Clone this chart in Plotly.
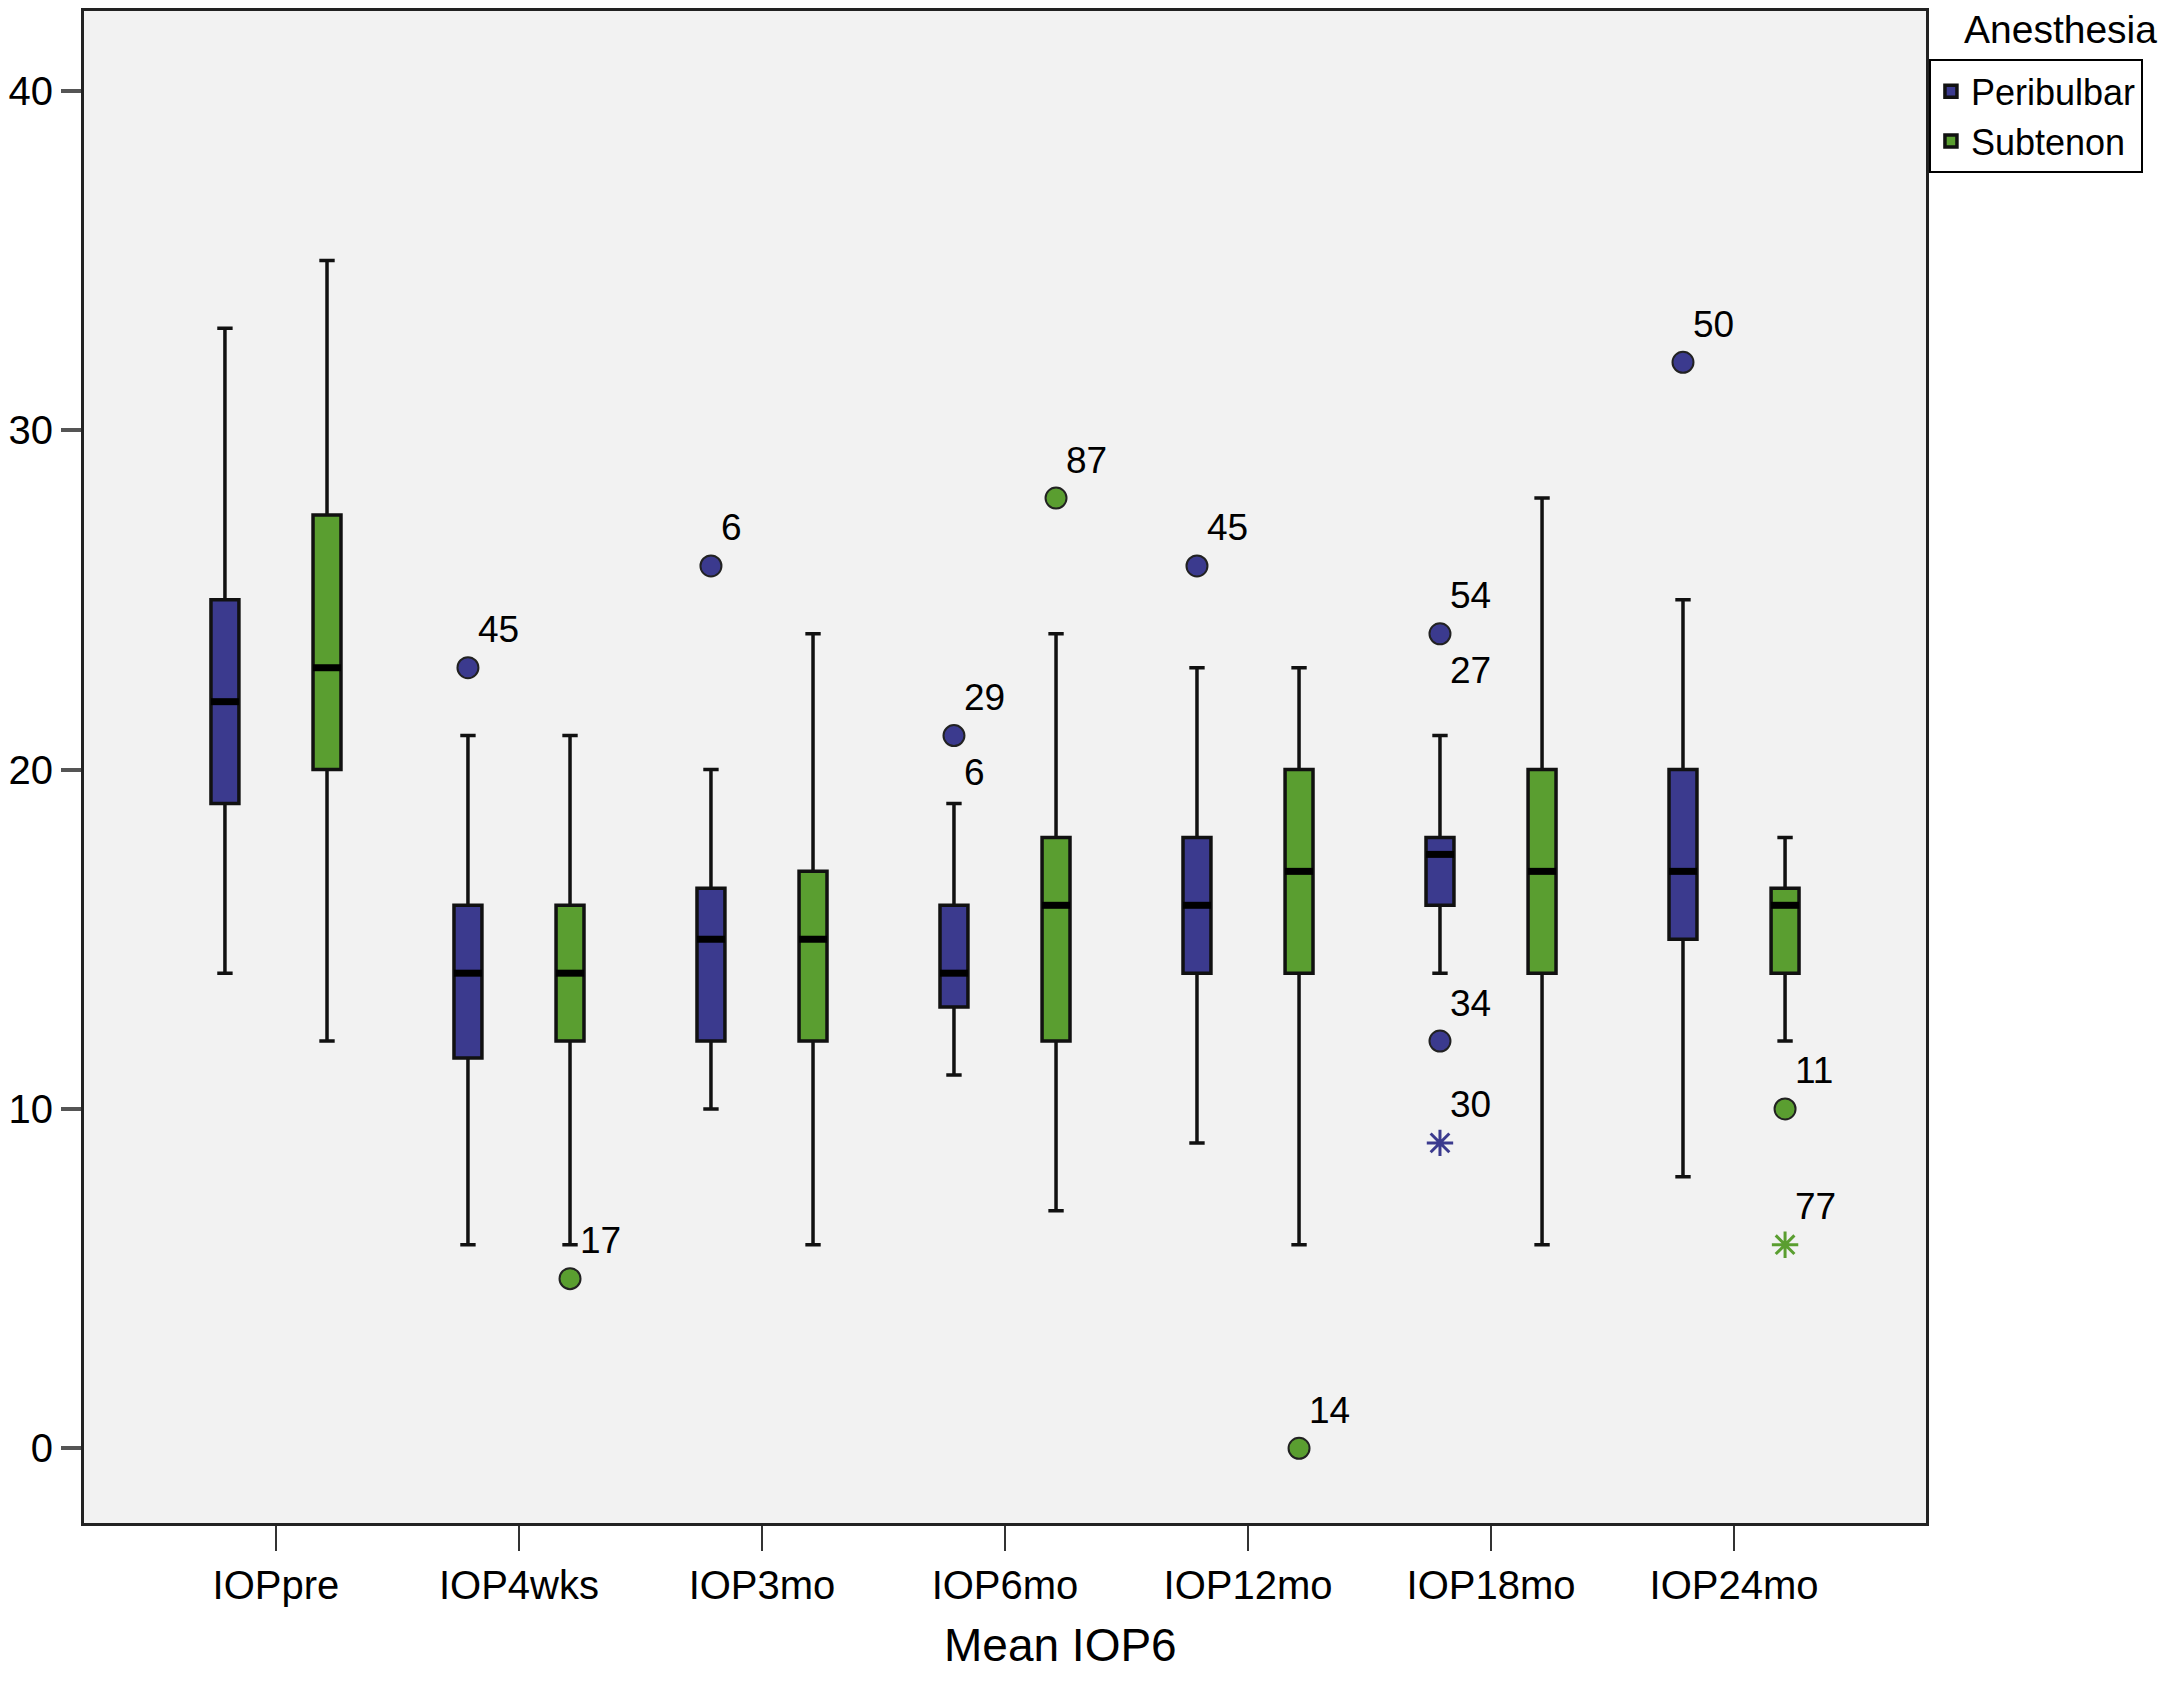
import plotly.graph_objects as go

# ---------------- data ----------------
categories = ["IOPpre", "IOP4wks", "IOP3mo", "IOP6mo", "IOP12mo", "IOP18mo", "IOP24mo"]

peri_low = [14, 6, 10, 11, 9, 14, 8]
peri_q1 = [19, 11.5, 12, 13, 14, 16, 15]
peri_med = [22, 14, 15, 14, 16, 17.5, 17]
peri_q3 = [25, 16, 16.5, 16, 18, 18, 20]
peri_high = [33, 21, 20, 19, 23, 21, 25]

sub_low = [12, 6, 6, 7, 6, 6, 12]
sub_q1 = [20, 12, 12, 12, 14, 14, 14]
sub_med = [23, 14, 15, 16, 17, 17, 16]
sub_q3 = [27.5, 16, 17, 18, 20, 20, 16.5]
sub_high = [35, 21, 24, 24, 23, 28, 18]

peri_outlier_cat = ["IOP4wks", "IOP3mo", "IOP6mo", "IOP12mo", "IOP18mo", "IOP18mo", "IOP24mo"]
peri_outlier_val = [23, 26, 21, 26, 24, 12, 32]
peri_outlier_id = ["45", "6", "29", "45", "54", "34", "50"]
peri_outlier_id2 = ["", "", "6", "", "27", "", ""]
peri_extreme_cat = ["IOP18mo"]
peri_extreme_val = [9]
peri_extreme_id = ["30"]

sub_outlier_cat = ["IOP4wks", "IOP6mo", "IOP12mo", "IOP24mo"]
sub_outlier_val = [5, 28, 0, 10]
sub_outlier_id = ["17", "87", "14", "11"]
sub_extreme_cat = ["IOP24mo"]
sub_extreme_val = [6]
sub_extreme_id = ["77"]

# ---------------- styling ----------------
BLUE = "#3B3A8E"
GREEN = "#5A9E30"
FONT = "Liberation Sans, Arial, Helvetica, sans-serif"
OFFSET = 0.21
BOXW = 0.115

def pos(cat, off):
    return categories.index(cat) + off

fig = go.Figure()

groups = [
    ("Peribulbar", BLUE, -OFFSET, peri_low, peri_q1, peri_med, peri_q3, peri_high),
    ("Subtenon", GREEN, OFFSET, sub_low, sub_q1, sub_med, sub_q3, sub_high),
]

for name, col, off, lo, q1, med, q3, hi in groups:
    xs = [i + off for i in range(len(categories))]
    fig.add_trace(go.Box(
        name=name, x=xs, q1=q1, median=med, q3=q3,
        lowerfence=lo, upperfence=hi,
        width=BOXW, whiskerwidth=0.55,
        fillcolor=col, line=dict(color="#111111", width=3.5),
        boxpoints=False, showlegend=True,
    ))
    # thick median bars
    mx, my = [], []
    for x, m in zip(xs, med):
        mx += [x - BOXW / 2, x + BOXW / 2, None]
        my += [m, m, None]
    fig.add_trace(go.Scatter(x=mx, y=my, mode="lines",
                             line=dict(color="#000000", width=7),
                             showlegend=False, hoverinfo="skip"))

annotations = []

def add_labels(xs, ys, labels, below=False):
    for x, y, t in zip(xs, ys, labels):
        if not t:
            continue
        annotations.append(dict(
            x=x, y=y, xref="x", yref="y", text=t, showarrow=False,
            xanchor="left", yanchor="middle", xshift=8,
            yshift=-37 if below else 38,
            font=dict(family=FONT, size=37, color="#000000")))

outlier_sets = [
    (BLUE, -OFFSET, peri_outlier_cat, peri_outlier_val, peri_outlier_id, peri_outlier_id2,
     peri_extreme_cat, peri_extreme_val, peri_extreme_id),
    (GREEN, OFFSET, sub_outlier_cat, sub_outlier_val, sub_outlier_id, None,
     sub_extreme_cat, sub_extreme_val, sub_extreme_id),
]

for col, off, oc, ov, oid, oid2, ec, ev, eid in outlier_sets:
    ox = [pos(c, off) for c in oc]
    fig.add_trace(go.Scatter(
        x=ox, y=ov, mode="markers",
        marker=dict(symbol="circle", size=21, color=col,
                    line=dict(color="#222222", width=2)),
        showlegend=False, hoverinfo="skip"))
    add_labels(ox, ov, oid)
    if oid2:
        add_labels(ox, ov, oid2, below=True)
    ex = [pos(c, off) for c in ec]
    fig.add_trace(go.Scatter(
        x=ex, y=ev, mode="markers",
        marker=dict(symbol="asterisk-open", size=22, color=col,
                    line=dict(color=col, width=3)),
        showlegend=False, hoverinfo="skip"))
    add_labels(ex, ev, eid)

# legend title (drawn above the legend frame, as in the reference)
annotations.append(dict(
    text="Anesthesia", xref="paper", yref="paper", x=1.1265, y=0.988,
    xanchor="right", yanchor="middle", showarrow=False,
    font=dict(family=FONT, size=39, color="#000000")))

# x-axis title (slightly right of the plot centre, as in the reference)
annotations.append(dict(
    text="Mean IOP6", xref="paper", yref="paper", x=0.530, y=-0.0805,
    xanchor="center", yanchor="middle", showarrow=False,
    font=dict(family=FONT, size=46, color="#000000")))

fig.update_layout(
    width=2157, height=1665,
    margin=dict(l=62, r=239, t=0, b=150),
    paper_bgcolor="#FFFFFF", plot_bgcolor="#F2F2F2",
    boxmode="overlay",
    font=dict(family=FONT, color="#000000"),
    annotations=annotations,
    legend=dict(x=1.0016, y=0.968, xanchor="left", yanchor="top",
                bgcolor="#FFFFFF", bordercolor="#000000", borderwidth=2,
                font=dict(family=FONT, size=36, color="#000000"),
                tracegroupgap=0),
    xaxis=dict(range=[-0.79, 6.79], tickmode="array",
               tickvals=list(range(len(categories))), ticktext=categories,
               ticks="outside", ticklen=25, tickwidth=2, tickcolor="#333333",
               showline=True, linecolor="#222222", linewidth=3, mirror=True,
               showgrid=False, zeroline=False,
               tickfont=dict(family=FONT, size=40, color="#000000")),
    yaxis=dict(range=[-2.2, 42.35], tickmode="array",
               tickvals=[0, 10, 20, 30, 40],
               ticks="outside", ticklen=20, tickwidth=4, tickcolor="#555555",
               showline=True, linecolor="#222222", linewidth=3, mirror=True,
               showgrid=False, zeroline=False,
               tickfont=dict(family=FONT, size=40, color="#000000")),
)

fig.write_html("out.html")
